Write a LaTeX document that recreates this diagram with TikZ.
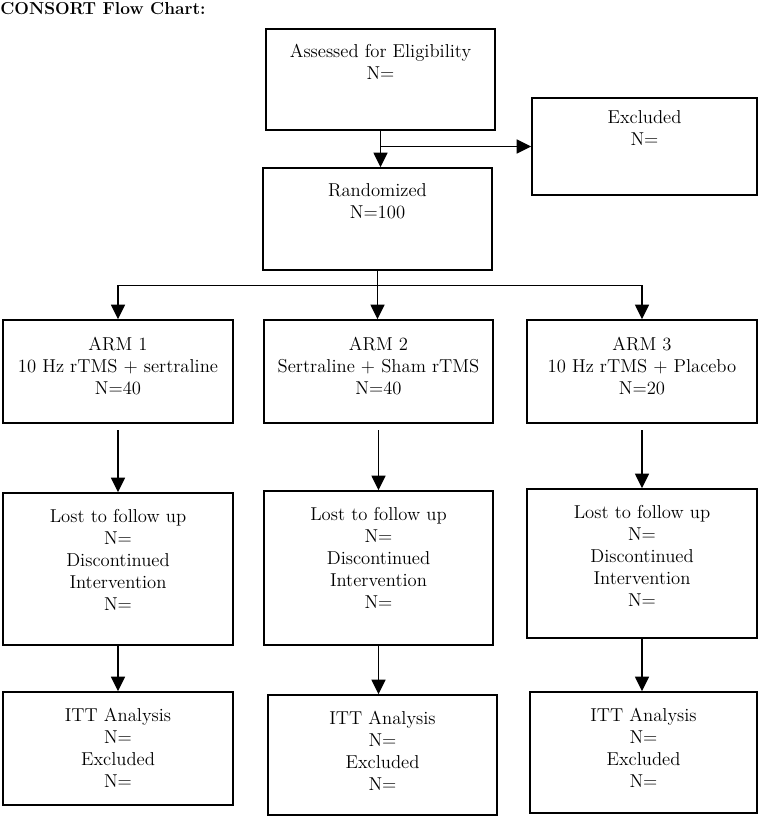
\documentclass[tikz,border=0pt]{standalone}
\usetikzlibrary{calc, arrows.meta, positioning}

\begin{document}
\begin{tikzpicture}[x=0.75pt, y=-0.75pt,
  box/.style={draw, line width=1.1pt, inner sep=0pt},
  txt/.style={anchor=north, align=center, inner sep=0pt, font=\fontsize{14}{16.4}\selectfont},
  arr/.style={-{Triangle[width=10.5pt, length=11pt]}, line width=1.1pt}]
  \useasboundingbox (0,0) rectangle (760,817);
  \node[anchor=west, inner sep=0pt, font=\fontsize{13}{16}\selectfont\bfseries] (title) at (0,9) {CONSORT Flow Chart:};

  \node[box, minimum width=171.75pt, minimum height=75.75pt] (assess) at (380.5,79.5) {};
  \node[box, minimum width=168.75pt, minimum height=72.75pt] (excl) at (644.5,146.5) {};
  \node[box, minimum width=171.75pt, minimum height=76.5pt] (rand) at (377.5,219) {};
  \node[txt] (assesstxt) at ($(assess.north)+(0,16)$) {Assessed for Eligibility\\N=};
  \node[txt] (excltxt) at ($(excl.north)+(0,13)$) {Excluded\\N=};
  \node[txt] (randtxt) at ($(rand.north)+(0,16)$) {Randomized\\N=100};

  \node[box, minimum width=172.5pt, minimum height=77.25pt] (arm1) at (118,371.5) {};
  \node[box, minimum width=171.75pt, minimum height=77.25pt] (arm2) at (378.5,371.5) {};
  \node[box, minimum width=172.5pt, minimum height=77.25pt] (arm3) at (642,371.5) {};
  \node[txt] (arm1txt) at ($(arm1.north)+(0,18)$) {ARM 1\\10 Hz rTMS + sertraline\\N=40};
  \node[txt] (arm2txt) at ($(arm2.north)+(0,18)$) {ARM 2\\Sertraline + Sham rTMS\\N=40};
  \node[txt] (arm3txt) at ($(arm3.north)+(0,18)$) {ARM 3\\10 Hz rTMS + Placebo\\N=20};

  \node[box, minimum width=172.5pt, minimum height=114pt] (lost1) at (118,569) {};
  \node[box, minimum width=171.75pt, minimum height=115.5pt] (lost2) at (378.5,568) {};
  \node[box, minimum width=172.5pt, minimum height=111.75pt] (lost3) at (642,563.5) {};
  \node[txt] (lost1txt) at ($(lost1.north)+(0,17)$) {Lost to follow up\\N=\\Discontinued\\Intervention\\N=};
  \node[txt] (lost2txt) at ($(lost2.north)+(0,17)$) {Lost to follow up\\N=\\Discontinued\\Intervention\\N=};
  \node[txt] (lost3txt) at ($(lost3.north)+(0,17)$) {Lost to follow up\\N=\\Discontinued\\Intervention\\N=};

  \node[box, minimum width=172.5pt, minimum height=84.75pt] (itt1) at (118,748.5) {};
  \node[box, minimum width=171.75pt, minimum height=90pt] (itt2) at (382.5,755) {};
  \node[box, minimum width=170.25pt, minimum height=90.75pt] (itt3) at (643.5,752.5) {};
  \node[txt] (itt1txt) at ($(itt1.north)+(0,17)$) {ITT Analysis\\N=\\Excluded\\N=};
  \node[txt] (itt2txt) at ($(itt2.north)+(0,17)$) {ITT Analysis\\N=\\Excluded\\N=};
  \node[txt] (itt3txt) at ($(itt3.north)+(0,17)$) {ITT Analysis\\N=\\Excluded\\N=};

  \coordinate (split) at (assess.south |- excl.west);
  \draw[arr] (assess.south) -- (assess.south |- rand.north);
  \draw[arr] (split) -- (excl.west);

  \coordinate (bus) at ($(rand.south)!0.3!(rand.south |- arm2.north)$);
  \draw[line width=1.1pt] (bus -| arm1.north) -- (bus -| arm3.north);
  \draw[arr] (rand.south) -- (rand.south |- arm2.north);
  \draw[arr] (bus -| arm1.north) -- (arm1.north);
  \draw[arr] (bus -| arm3.north) -- (arm3.north);

  \foreach \i in {1,2,3}{
    \draw[arr, shorten <=5pt] (arm\i.south) -- (arm\i.south |- lost\i.north);
    \draw[arr] (lost\i.south) -- (lost\i.south |- itt\i.north);
  }
\end{tikzpicture}
\end{document}
